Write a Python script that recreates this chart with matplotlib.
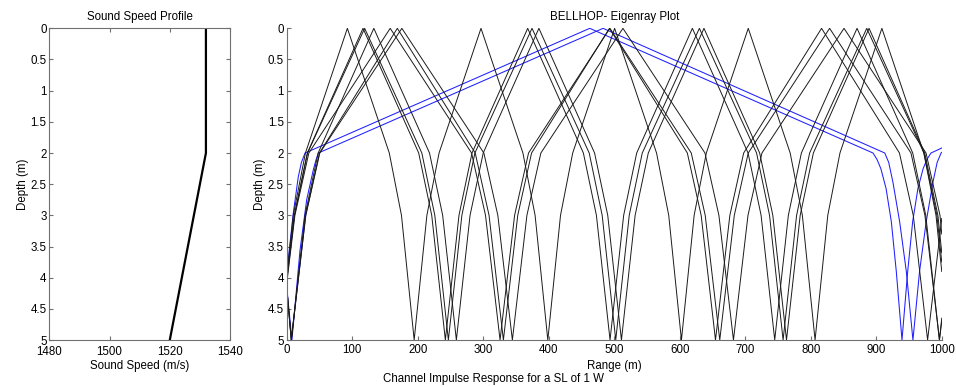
import matplotlib
matplotlib.use('Agg')
import matplotlib.pyplot as plt
from matplotlib import rcParams

rcParams['font.family'] = ['Liberation Sans', 'DejaVu Sans']
rcParams['font.size'] = 8.3
rcParams['xtick.direction'] = 'in'
rcParams['ytick.direction'] = 'in'
rcParams['xtick.major.size'] = 3
rcParams['ytick.major.size'] = 3

# sound speed profile (m/s vs m)
ssp_speed = [1532, 1532, 1520]
ssp_depth = [0, 2, 5]

depth_ticks = [0, 0.5, 1, 1.5, 2, 2.5, 3, 3.5, 4, 4.5, 5]
depth_labels = ['0', '0.5', '1', '1.5', '2', '2.5', '3', '3.5', '4', '4.5', '5']
speed_ticks = [1480, 1500, 1520, 1540]
range_ticks = [0, 100, 200, 300, 400, 500, 600, 700, 800, 900, 1000]

# eigenrays, (range m, depth m)
ray1 = [(0, 4.0), (10, 3), (28.6, 2), (92.6, 0), (156.6, 2), (175.2, 3), (194.6, 5),
        (214, 3), (232.6, 2), (296.6, 0), (360.6, 2), (379.2, 3), (398.6, 5),
        (418, 3), (436.6, 2), (500.6, 0), (564.6, 2), (583.2, 3), (602.6, 5),
        (622, 3), (640.6, 2), (704.6, 0), (768.6, 2), (787.2, 3), (806.6, 5),
        (826, 3), (844.6, 2), (908.6, 0), (972.6, 2), (991.2, 3), (1000, 3.9)]
ray2 = [(0, 4.0), (11.6, 3), (31.5, 2), (116.5, 0), (201.5, 2), (221.4, 3), (242.2, 5),
        (263, 3), (282.9, 2), (367.9, 0), (452.9, 2), (472.8, 3), (493.6, 5),
        (514.4, 3), (534.3, 2), (619.3, 0), (704.3, 2), (724.2, 3), (745, 5),
        (765.8, 3), (785.7, 2), (870.7, 0), (955.7, 2), (975.6, 3), (996.4, 5),
        (1000, 4.65)]
ray3 = [(0, 4.05), (11.9, 3), (31.8, 2), (119, 0), (206.3, 2), (226.1, 3), (246.8, 5),
        (267.4, 3), (287.3, 2), (374.5, 0), (461.8, 2), (481.6, 3), (502.3, 5),
        (522.9, 3), (542.8, 2), (630, 0), (717.3, 2), (737.1, 3), (757.8, 5),
        (778.4, 3), (798.3, 2), (885.5, 0), (972.8, 2), (992.6, 3), (1000, 3.75)]
ray4 = [(0, 4.15), (7, 5), (27.9, 3), (48, 2), (133, 0), (218, 2), (238.1, 3), (259, 5),
        (279.9, 3), (300, 2), (385, 0), (470, 2), (490.1, 3), (511, 5),
        (531.9, 3), (552, 2), (637, 0), (722, 2), (742.1, 3), (763, 5),
        (783.9, 3), (804, 2), (889, 0), (974, 2), (994.1, 3), (1000, 3.6)]
ray5 = [(0, 4.1), (12.5, 3), (33.8, 2), (158, 0), (282.2, 2), (303.5, 3), (325.7, 5),
        (347.9, 3), (369.2, 2), (493.4, 0), (617.6, 2), (638.9, 3), (661.1, 5),
        (683.3, 3), (704.6, 2), (828.8, 0), (953, 2), (974.3, 3), (996.5, 5),
        (1000, 4.7)]
ray6 = [(0, 4.15), (7, 5), (28.9, 3), (50, 2), (168.9, 0), (287.8, 2), (308.9, 3),
        (330.8, 5), (352.7, 3), (373.8, 2), (492.7, 0), (611.6, 2), (632.7, 3),
        (654.6, 5), (676.5, 3), (697.6, 2), (816.5, 0), (935.4, 2), (956.5, 3),
        (978.4, 5), (1000, 3.05)]
ray7 = [(0, 4.15), (7, 5), (29.2, 3), (50.5, 2), (175.8, 0), (301, 2), (322.3, 3),
        (344.5, 5), (366.7, 3), (388, 2), (513.3, 0), (638.5, 2), (659.8, 3),
        (682, 5), (704.2, 3), (725.5, 2), (850.8, 0), (976, 2), (997.3, 3),
        (1000, 3.3)]

blue_ray1 = [(0, 3.93), (10, 2.97), (17.7, 2.38), (22.5, 2.15), (28, 2.0), (462.6, 0),
             (895, 2.0), (901, 2.1), (907, 2.25), (915, 2.57), (923, 3.1), (930.6, 3.9),
             (939.3, 5), (948, 3.9), (955.6, 3.1), (963.6, 2.57), (971.6, 2.25),
             (977.6, 2.1), (983.6, 2.0), (1000, 1.92)]
blue_ray2 = [(0, 4.15), (8, 5), (20.3, 3.56), (30.5, 2.75), (40.6, 2.27), (44.5, 2.12),
             (48.3, 2.0), (483, 0), (913, 2.0), (919, 2.15), (925.5, 2.47), (935.7, 3.1),
             (945.9, 3.9), (956, 5), (966.1, 3.9), (976.3, 3.1), (986.5, 2.47),
             (993, 2.15), (999, 2.0), (1000, 1.99)]

black_rays = [ray1, ray2, ray3, ray4, ray5, ray6, ray7]
blue_rays = [blue_ray1, blue_ray2]

spine_color = '#707070'


def style_axes(ax, xpad):
    for s in ax.spines.values():
        s.set_color(spine_color)
        s.set_linewidth(0.8)
    ax.tick_params(colors=spine_color, labelcolor='black')
    ax.tick_params(axis='x', pad=xpad)
    ax.tick_params(axis='y', pad=2)


fig = plt.figure(figsize=(9.56, 3.87), dpi=100)

# sound speed profile
ax1 = fig.add_axes([0.0516, 0.1214, 0.189, 0.8054])
ax1.plot(ssp_speed, ssp_depth, color='black', linewidth=1.6)
ax1.set_xlim(1480, 1540)
ax1.set_ylim(5, 0)
ax1.set_xticks(speed_ticks)
ax1.set_yticks(depth_ticks)
ax1.set_yticklabels(depth_labels)
ax1.tick_params(top=True, right=True)
ax1.set_title('Sound Speed Profile', fontsize=8.3, pad=6)
ax1.set_xlabel('Sound Speed (m/s)', labelpad=1)
ax1.set_ylabel('Depth (m)', labelpad=1)
style_axes(ax1, 4.5)

# eigenrays, blue under the black ones
ax2 = fig.add_axes([0.2999, 0.1214, 0.6852, 0.8054])
for ray in blue_rays:
    r, z = zip(*ray)
    ax2.plot(r, z, color='#1f1fff', linewidth=0.75)
for ray in black_rays:
    r, z = zip(*ray)
    ax2.plot(r, z, color='#1a1a1a', linewidth=0.7)
ax2.set_xlim(0, 1000)
ax2.set_ylim(5, 0)
ax2.set_xticks(range_ticks)
ax2.set_yticks(depth_ticks)
ax2.set_yticklabels(depth_labels)
ax2.spines['top'].set_visible(False)
ax2.spines['right'].set_visible(False)
ax2.set_title('BELLHOP- Eigenray Plot', fontsize=8.3, pad=6)
ax2.set_xlabel('Range (m)', labelpad=3)
ax2.set_ylabel('Depth (m)', labelpad=1)
style_axes(ax2, 3)

fig.text(0.516, 0.005, 'Channel Impulse Response for a SL of 1 W', ha='center', va='bottom')

fig.savefig('out.png', dpi=100)
plt.close(fig)
